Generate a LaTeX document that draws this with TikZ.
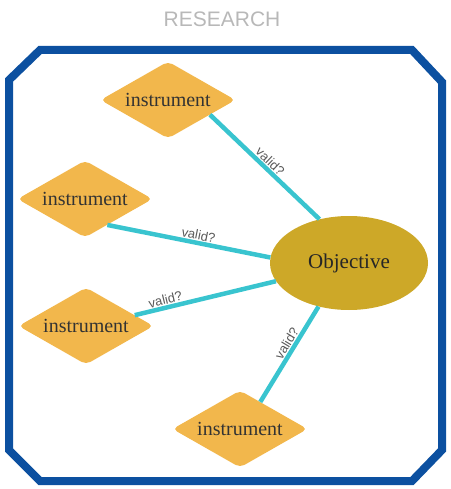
\documentclass[tikz,border=0pt]{standalone}
\usepackage{fontspec}
\setmainfont{Liberation Serif}
\newfontfamily\labelfont{Liberation Sans}
\usetikzlibrary{shapes.geometric,calc}
\definecolor{framebl}{RGB}{12,80,160}
\definecolor{instrfill}{RGB}{242,183,76}
\definecolor{objfill}{RGB}{205,168,40}
\definecolor{linkcy}{RGB}{57,196,207}

\begin{document}
\begin{tikzpicture}[x=1pt, y=-1pt,
  instr/.style={diamond, aspect=1.75, fill=instrfill, rounded corners=5pt, inner sep=0pt, minimum width=135pt, minimum height=77pt, font=\fontsize{20}{23}\selectfont, text=black!80},
  obj/.style={ellipse, fill=objfill, inner sep=0pt, minimum width=158pt, minimum height=94pt, font=\fontsize{21}{24}\selectfont, text=black!85},
  link/.style={draw=linkcy, line width=4.5pt},
  lbl/.style={font=\labelfont\fontsize{13}{15}\selectfont, text=black!65, sloped, above, inner sep=1pt}]
\useasboundingbox (0,0) rectangle (450,489);
\node[font=\labelfont\fontsize{21}{24}\selectfont, text=black!28] (title) at (222,19) {RESEARCH};
\draw[draw=framebl, line width=8pt] (40,50) -- (412,50) -- (442,82) -- (442,450) -- (412,481) -- (40,481) -- (9,450) -- (9,80) -- cycle;
\node[obj] (goal) at (349,263) {Objective};
\node[instr] (inst1) at (168,100) {instrument};
\node[instr] (inst2) at (85,199) {instrument};
\node[instr] (inst3) at (86,326) {instrument};
\node[instr] (inst4) at (240,429) {instrument};
\draw[link] ($(inst1.south)!0.62!(inst1.east)$) -- node[lbl, pos=0.5] {valid?} (goal.124);
\draw[link] ($(inst2.south)!0.33!(inst2.east)$) -- node[lbl, pos=0.55] {valid?} (goal.176);
\draw[link] ($(inst3.north)!0.72!(inst3.east)$) -- node[lbl, pos=0.23] {valid?} (goal.194);
\draw[link] ($(inst4.north)!0.3!(inst4.east)$) -- node[lbl, pos=0.57] {valid?} (goal.235);
\end{tikzpicture}
\end{document}
